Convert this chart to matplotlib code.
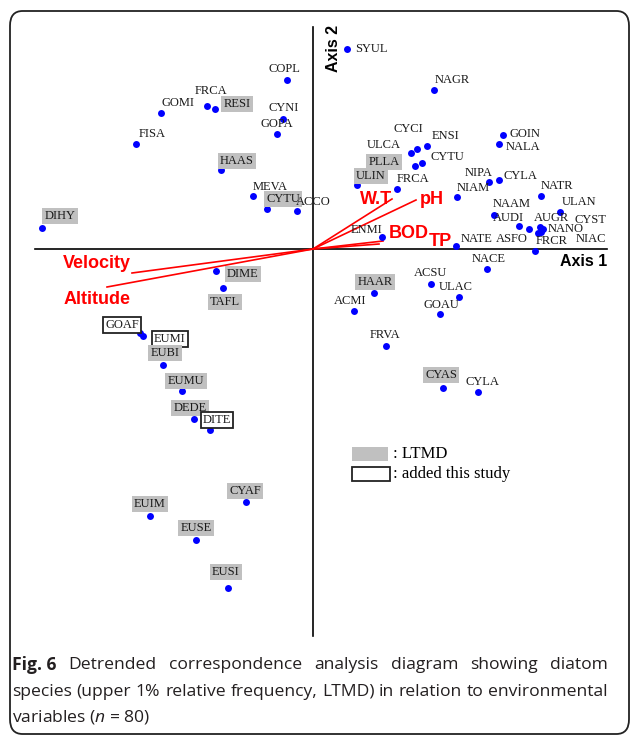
import matplotlib.pyplot as plt
from matplotlib.patches import FancyBboxPatch, Rectangle

plt.rcParams['mathtext.fontset'] = 'custom'
plt.rcParams['mathtext.it'] = 'Open Sans:italic'
plt.rcParams['mathtext.rm'] = 'Open Sans'

# DCA species scores (axis 1, axis 2)
species = ["SYUL", "NAGR", "COPL", "FRCA", "RESI", "GOMI", "CYNI", "GOPA", "FISA", "HAAS",
           "MEVA", "CYTU", "ACCO", "DIHY", "GOIN", "NALA", "ENSI", "CYCI", "ULCA", "CYTU",
           "PLLA", "ULIN", "FRCA", "NIPA", "CYLA", "NIAM", "NATR", "ULAN", "NAAM", "AUDI",
           "ASFO", "AUGR", "CYST", "NANO", "NIAC", "NATE", "FRCR", "ENMI", "NACE", "ACSU",
           "HAAR", "ULAC", "ACMI", "GOAU", "FRVA", "CYAS", "CYLA", "DIME", "TAFL", "GOAF",
           "EUMI", "EUBI", "EUMU", "DEDE", "DITE", "CYAF", "EUIM", "EUSE", "EUSI"]
axis1 = [0.34, 1.21, -0.26, -1.06, -0.98, -1.52, -0.30, -0.36, -1.77, -0.92,
         -0.60, -0.46, -0.16, -2.71, 1.90, 1.86, 1.14, 1.04, 0.98, 1.09,
         1.02, 0.44, 0.84, 1.76, 1.86, 1.44, 2.28, 2.47, 1.81, 2.06,
         2.16, 2.27, 2.30, 2.28, 2.25, 1.43, 2.22, 0.69, 1.74, 1.18,
         0.61, 1.46, 0.41, 1.27, 0.73, 1.30, 1.65, -0.97, -0.90, -1.73,
         -1.70, -1.50, -1.31, -1.19, -1.03, -0.67, -1.63, -1.17, -0.85]
axis2 = [2.00, 1.59, 1.69, 1.43, 1.40, 1.36, 1.30, 1.15, 1.05, 0.79,
         0.53, 0.40, 0.38, 0.21, 1.14, 1.05, 1.03, 1.00, 0.96, 0.86,
         0.83, 0.64, 0.60, 0.67, 0.69, 0.52, 0.53, 0.37, 0.34, 0.23,
         0.20, 0.22, 0.20, 0.17, 0.16, 0.03, -0.02, 0.12, -0.20, -0.35,
         -0.44, -0.48, -0.62, -0.65, -0.97, -1.39, -1.43, -0.22, -0.39, -0.84,
         -0.87, -1.16, -1.42, -1.70, -1.81, -2.53, -2.67, -2.91, -3.39]
# '' = plain, 'L' = LTMD (grey), 'N' = added this study (boxed)
group = ["", "", "", "", "L", "", "", "", "", "L",
         "", "L", "", "L", "", "", "", "", "", "",
         "L", "L", "", "", "", "", "", "", "", "",
         "", "", "", "", "", "", "", "", "", "",
         "L", "", "", "", "", "L", "", "L", "L", "N",
         "N", "L", "L", "L", "N", "L", "L", "L", "L"]

# environmental vectors
env_names = ["Velocity", "Altitude", "W.T", "pH", "BOD", "TP"]
env_x = [-1.81, -2.06, 0.79, 1.03, 0.70, 0.66]
env_y = [-0.24, -0.38, 0.50, 0.49, 0.08, 0.05]

# label offsets (pixels) from each point
lab_dx = [24, 18, -3, 4, 22, 17, 1, 0, 16, 16,
          17, 16, 16, 18, 22, 24, 19, -9, -27, 25,
          -31, 14, 16, -10, 21, 16, 16, 19, 18, -11,
          -17, 11, 47, 25, 53, 21, 17, -15, 2, 0,
          1, -3, -4, 1, -1, -2, 4, 27, 2, -18,
          27, 2, 4, -4, 7, -1, 0, 0, -2]
lab_dy = [0, 10, 11, 15, 5, 10, 11, 10, 10, 9,
          9, 10, 9, 12, 1, -3, 10, 20, 8, 6,
          4, 9, 10, 9, 4, 9, 10, 10, 11, 8,
          -10, 9, 9, 3, -6, 7, 10, 7, 10, 11,
          11, 10, 10, 9, 11, 13, 10, -3, -14, 8,
          -3, 12, 10, 11, 10, 11, 12, 12, 16]
env_dx = [-35, -10, -16, 16, 26, 61]
env_dy = [10, -12, -1, 0, 7, 2]

W, H = 630, 736
fig = plt.figure(figsize=(6.3, 7.36), dpi=100)
ax = fig.add_axes([0, 0, 1, 1])
ax.set_xlim(-3.13, 3.17)
ax.set_ylim(-4.87, 2.49)
ax.axis('off')

# outer panel frame
fig.patches.append(FancyBboxPatch((10 / W, 2 / H), 619 / W, 723 / H,
                                  boxstyle="round,pad=0,rounding_size=0.02",
                                  transform=fig.transFigure, fc='none',
                                  ec='#222222', lw=1.3))

# ordination axes
ax.plot([-2.78, 2.94], [0, 0], color='black', lw=1.2)
ax.plot([0, 0], [-3.87, 2.22], color='black', lw=1.2)
ax.text(2.94, -0.12, "Axis 1", ha='right', va='center', fontsize=11.5,
        fontweight='bold', family='Liberation Sans')
ax.text(0.20, 2.01, "Axis 2", ha='center', va='center', fontsize=11.5,
        fontweight='bold', family='Liberation Sans', rotation=90)

# environmental arrows
for name, x, y, dx, dy in zip(env_names, env_x, env_y, env_dx, env_dy):
    ax.plot([0, x], [0, y], color='red', lw=1.2)
    ax.annotate(name, (x, y), xytext=(dx, dy), textcoords='offset pixels',
                ha='center', va='center', color='red', fontsize=13,
                fontweight='bold', family='Liberation Sans')

ax.plot(axis1, axis2, 'o', color='blue', markersize=5, markeredgewidth=0)

for name, x, y, g, dx, dy in zip(species, axis1, axis2, group, lab_dx, lab_dy):
    bbox = None
    if g == 'L':
        bbox = dict(boxstyle='square,pad=0.18', fc='#c0c0c0', ec='none')
    elif g == 'N':
        bbox = dict(boxstyle='square,pad=0.15', fc='white', ec='#222222', lw=1.3)
    ax.annotate(name, (x, y), xytext=(dx, dy), textcoords='offset pixels',
                ha='center', va='center', fontsize=9, family='Liberation Serif',
                color='#1a1a1a', bbox=bbox)

# legend
ax.add_patch(Rectangle((0.39, -2.12), 0.36, 0.14, fc='#c0c0c0', ec='none'))
ax.add_patch(Rectangle((0.39, -2.32), 0.38, 0.14, fc='white', ec='#222222', lw=1.3))
ax.text(0.80, -2.05, ": LTMD", ha='left', va='center', fontsize=12,
        family='Liberation Serif')
ax.text(0.80, -2.25, ": added this study", ha='left', va='center', fontsize=12,
        family='Liberation Serif')

# caption (justified lines)
cap_color = '#231f20'
cap_size = 12.6
renderer = fig.canvas.get_renderer()


def justified(words, y, x0, x1, first_bold=False):
    items = []
    for i, w in enumerate(words):
        weight = 'bold' if (first_bold and i == 0) else 'normal'
        t = fig.text(0, 1 - y / H, w, fontsize=cap_size, fontweight=weight,
                     family='Open Sans', color=cap_color, va='center')
        items.append((t, t.get_window_extent(renderer).width))
    total = sum(wd for _, wd in items)
    gap = (x1 - x0 - total) / (len(items) - 1)
    x = x0
    for t, wd in items:
        t.set_x(x / W)
        x += wd + gap


justified(["Fig. 6", "Detrended", "correspondence", "analysis", "diagram",
           "showing", "diatom"], 665, 12, 608, first_bold=True)
justified(["species", "(upper", "1%", "relative", "frequency,", "LTMD)", "in",
           "relation", "to", "environmental"], 692, 12, 608)
fig.text(12 / W, 1 - 717 / H, r"variables ($n$ = 80)",
         fontsize=cap_size, family='Open Sans', color=cap_color, va='center')

fig.savefig("out.png", dpi=100)
